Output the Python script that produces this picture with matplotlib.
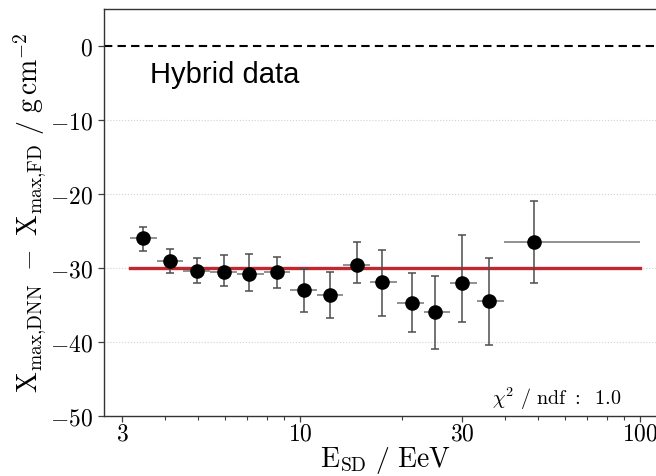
import matplotlib
matplotlib.use("Agg")
import matplotlib.pyplot as plt
from matplotlib.ticker import FixedLocator, FuncFormatter, LogLocator, NullFormatter

plt.rcParams["mathtext.fontset"] = "cm"

# energy bins (EeV) and mean energy per bin
e_mean = [3.46, 4.15, 4.98, 5.97, 7.07, 8.55, 10.3, 12.25, 14.7, 17.4, 21.3, 25.0, 29.9, 35.9, 48.9]
e_lo = [3.16, 3.79, 4.54, 5.44, 6.52, 7.81, 9.36, 11.2, 13.4, 16.1, 19.3, 23.1, 27.7, 33.2, 39.8]
e_hi = [3.79, 4.54, 5.44, 6.52, 7.81, 9.36, 11.2, 13.4, 16.1, 19.3, 23.1, 27.7, 33.2, 39.8, 100.0]

# Xmax bias (g/cm^2) and errors
bias = [-26.0, -29.1, -30.4, -30.5, -30.8, -30.6, -33.0, -33.6, -29.6, -31.85, -34.7, -35.9, -32.1, -34.5, -26.5]
err_up = [1.5, 1.6, 1.8, 2.3, 2.7, 2.1, 2.8, 3.1, 3.1, 4.25, 4.0, 4.8, 6.5, 5.9, 5.5]
err_dn = [1.7, 1.6, 1.7, 1.9, 2.3, 2.1, 2.9, 3.2, 2.5, 4.65, 4.0, 5.1, 5.2, 5.9, 5.6]

fit_value = -30.0
fit_range = [3.16, 100.0]
chi2_ndf = 1.0

fig = plt.figure(figsize=(6.56, 4.76), dpi=100)
ax = fig.add_axes([0.1585, 0.1267, 0.858, 0.8538])

ax.axhline(0, color="black", ls=(0, (4, 2.5)), lw=1.5, zorder=2)
ax.plot(fit_range, [fit_value, fit_value], color="#c1272d", lw=2.4, zorder=2)

xerr = [[m - lo for m, lo in zip(e_mean, e_lo)], [hi - m for m, hi in zip(e_mean, e_hi)]]
ax.errorbar(e_mean, bias, xerr=xerr, fmt="none", ecolor="0.45", elinewidth=1.1, zorder=3)
ax.errorbar(e_mean, bias, yerr=[err_dn, err_up], fmt="o", color="black", ms=9.5,
            ecolor="0.3", elinewidth=1.1, capsize=3, capthick=1.1, zorder=4)

ax.set_xscale("log")
ax.set_xlim(2.65, 120)
ax.set_ylim(-50, 5)

ax.xaxis.set_major_locator(FixedLocator([3, 10, 30, 100]))
ax.xaxis.set_minor_locator(LogLocator(base=10, subs=range(2, 10)))
ax.xaxis.set_minor_formatter(NullFormatter())
ax.xaxis.set_major_formatter(FuncFormatter(lambda v, p: "$%g$" % v))
ax.yaxis.set_major_locator(FixedLocator([0, -10, -20, -30, -40, -50]))
ax.yaxis.set_major_formatter(FuncFormatter(lambda v, p: "$%d$" % v))

ax.tick_params(axis="both", which="major", labelsize=17, length=4, width=0.9, color="0.25", pad=4)
ax.tick_params(axis="x", which="major", pad=0)
ax.tick_params(axis="x", which="minor", length=3, width=0.8, color="0.25")
for s in ax.spines.values():
    s.set_color("0.2")
    s.set_linewidth(1.0)

for y in [-10, -20, -30, -40]:
    ax.axhline(y, color="0.82", ls=":", lw=0.8, zorder=1)

ax.set_xlabel(r"$\mathrm{E_{SD}\ /\ EeV}$", fontsize=20, labelpad=0)
ax.set_ylabel(r"$\mathrm{X_{max{,}DNN}\ -\ X_{max{,}FD}\ /\ g\,cm^{-2}}$", fontsize=20, labelpad=1)

ax.text(3.62, -5.0, "Hybrid data", family="Liberation Sans", fontsize=21, va="baseline")
ax.text(36.7, -48.5, r"$\chi^2\ /\ \mathrm{ndf}\ :\ \ \mathrm{%.1f}$" % chi2_ndf, fontsize=14.5, va="baseline")

fig.savefig("out.png", dpi=100)
